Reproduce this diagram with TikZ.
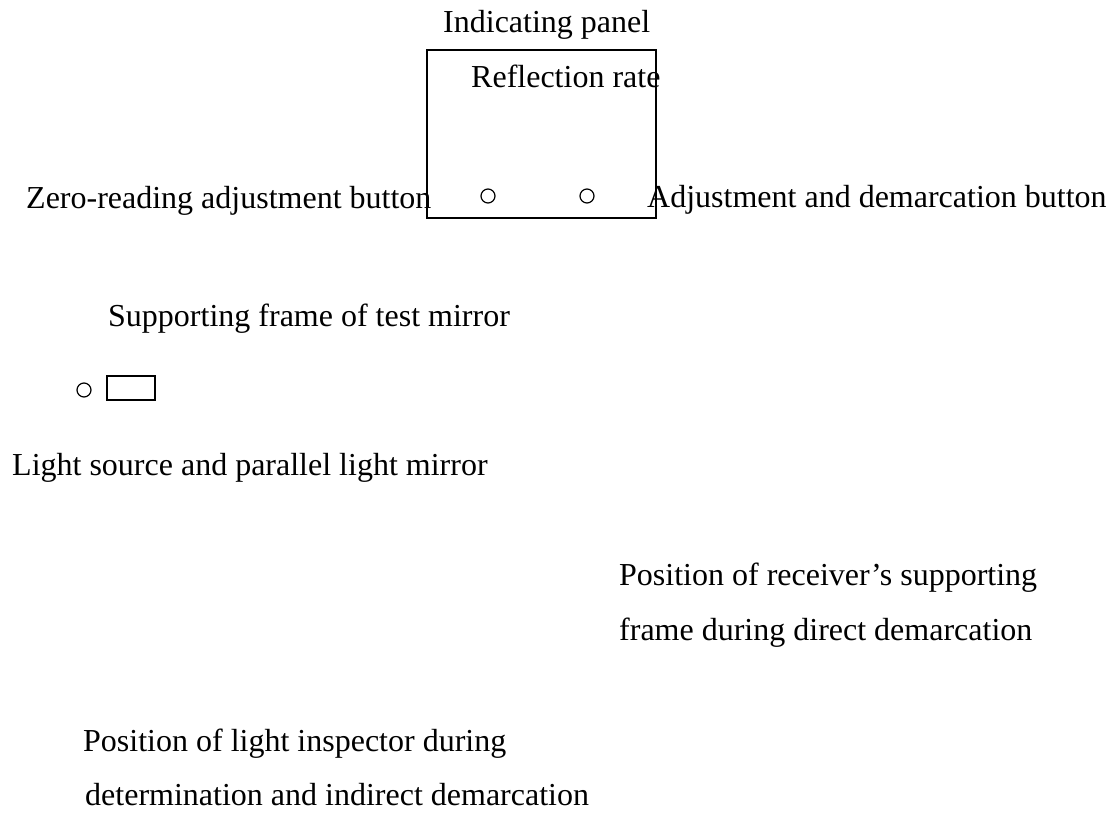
\documentclass[tikz,border=0pt]{standalone}
\usepackage{fontspec}
\setmainfont{Liberation Serif}
\begin{document}
\begin{tikzpicture}[x=1pt,y=-1pt,
  lbl/.style={anchor=base west,inner sep=0pt,font=\fontsize{32}{38}\selectfont},
  knob/.style={circle,draw,line width=1.2pt,minimum size=14pt,inner sep=0pt},
  panel/.style={draw,line width=1.6pt,inner sep=0pt}]
\useasboundingbox (0,0) rectangle (1112,814);
% indicating panel
\node[panel,minimum width=229pt,minimum height=168pt] (box) at (541.5,134) {};
\node[lbl] (ind) at (443,32) {Indicating panel};
\node[lbl] (refl) at (471,87) {Reflection rate};
\node[knob] (k1) at (488,196) {};
\node[knob] (k2) at (587,196) {};
\node[lbl] (zero) at (26,208) {Zero-reading adjustment button};
\node[lbl] (adj) at (647,207) {Adjustment and demarcation button};
% test mirror
\node[lbl] (supp) at (108,326) {Supporting frame of test mirror};
\node[knob] (src) at (84,390) {};
\node[draw,line width=2pt,minimum width=48pt,minimum height=24pt,inner sep=0pt] (mir) at (131,388) {};
\node[lbl] (light) at (12,475) {Light source and parallel light mirror};
% receiver
\node[lbl] (rec1) at (619,585) {Position of receiver’s supporting};
\node[lbl] (rec2) at (619,640) {frame during direct demarcation};
% inspector
\node[lbl] (ins1) at (83,751) {Position of light inspector during};
\node[lbl] (ins2) at (85,805) {determination and indirect demarcation};
\end{tikzpicture}
\end{document}
